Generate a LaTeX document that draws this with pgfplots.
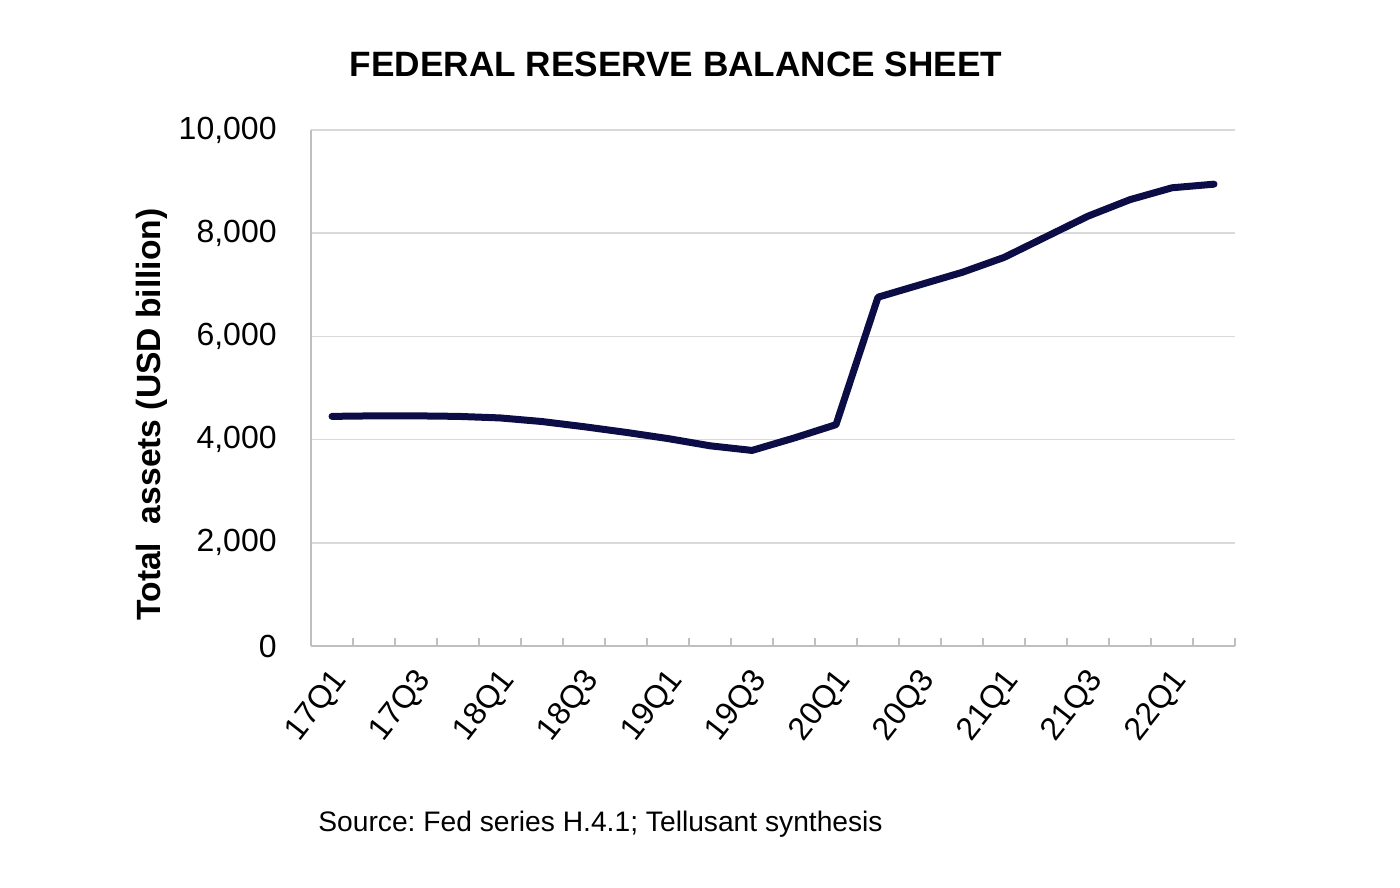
\documentclass[border=0pt]{standalone}
\usepackage{pgfplots}
\pgfplotsset{compat=1.18}
\usepackage{fontspec}
\setmainfont{Liberation Sans}
\frenchspacing

\definecolor{navy}{RGB}{12,12,70}
\definecolor{gridgray}{RGB}{217,217,217}
\definecolor{axisgray}{RGB}{191,191,191}

\begin{document}
\begin{tikzpicture}
\path[use as bounding box] (0,0) rectangle (700bp,444bp);

\begin{axis}[
    at={(155.5bp,121bp)}, anchor=south west,
    scale only axis, width=462bp, height=258bp,
    xmin=-0.5, xmax=21.5, ymin=0, ymax=10000,
    axis lines*=left,
    axis line style={-, draw=axisgray, line width=1bp},
    % y axis: grid only, no tick marks
    ytick={0,2000,...,10000},
    ymajorgrids,
    grid style={gridgray, line width=0.8bp},
    ytick style={draw=none},
    scaled y ticks=false,
    yticklabel style={/pgf/number format/1000 sep={,}, anchor=east, inner sep=0pt, xshift=-17bp},
    % x axis: labels every second quarter, marks between quarters
    xtick={0,2,...,20},
    xticklabels={17Q1,17Q3,18Q1,18Q3,19Q1,19Q3,20Q1,20Q3,21Q1,21Q3,22Q1},
    major x tick style={draw=none},
    minor xtick={0.5,1.5,...,21.5},
    minor tick length=4bp,
    tick align=inside,
    minor x tick style={draw=axisgray, line width=1bp},
    xticklabel style={xshift=-1bp, yshift=-10bp, rotate=52, anchor=north east, inner sep=0pt},
    /pgf/number format/assume math mode=true,
    ticklabel style={font=\fontsize{16bp}{18bp}\selectfont},
]
\addplot[navy, line width=3.5bp, line join=round, line cap=round] table {
x y
0 4450
1 4460
2 4460
3 4450
4 4420
5 4350
6 4250
7 4140
8 4020
9 3880
10 3790
11 4030
12 4290
13 6760
14 7000
15 7240
16 7530
17 7930
18 8330
19 8650
20 8880
21 8950
};
\end{axis}

\node[font=\bfseries\fontsize{17.6bp}{20bp}\selectfont, anchor=base] at (338bp,405.5bp) {FEDERAL RESERVE BALANCE SHEET};
\node[font=\bfseries\fontsize{16.8bp}{20bp}\selectfont, rotate=90] at (76bp,236.75bp) {Total\ \ assets (USD billion)};
\node[font=\fontsize{14.1bp}{17bp}\selectfont, anchor=base west, inner sep=0pt] at (159bp,28.5bp) {Source: Fed series H.4.1; Tellusant synthesis};
\end{tikzpicture}
\end{document}
